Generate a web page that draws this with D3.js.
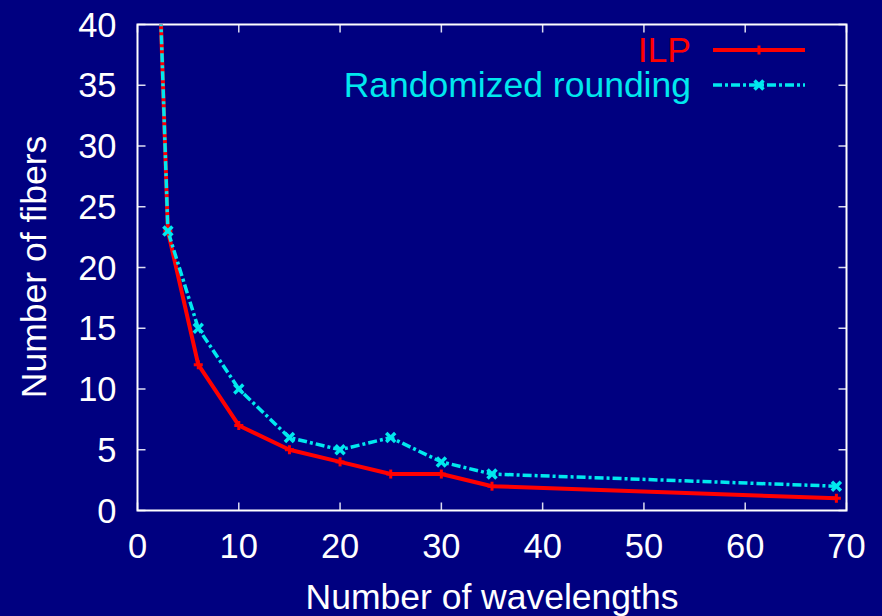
<!DOCTYPE html>
<html><head><meta charset="utf-8">
<script src="https://cdn.jsdelivr.net/npm/d3@7"></script>
<style>html,body{margin:0;padding:0;background:#000080;}svg{display:block;}</style>
</head><body>
<script>
const wavelengths = [2, 3, 6, 10, 15, 20, 25, 30, 35, 69];
const ilp = [48, 23, 12, 7, 5, 4, 3, 3, 2, 1];
const randomized = [48, 23, 15, 10, 6, 5, 6, 4, 3, 2];
const xTicks = [0, 10, 20, 30, 40, 50, 60, 70];
const yTicks = [0, 5, 10, 15, 20, 25, 30, 35, 40];
const seriesNames = ["ILP", "Randomized rounding"];

const W = 882, H = 616;
const m = {left: 137.5, right: W - 846.5, top: 24.5, bottom: H - 510.5};
const svg = d3.select("body").append("svg").attr("width", W).attr("height", H);
svg.append("rect").attr("width", W).attr("height", H).attr("fill", "#000080");

const x = d3.scaleLinear().domain([0, 70]).range([m.left, W - m.right]);
const y = d3.scaleLinear().domain([0, 40]).range([H - m.bottom, m.top]);

const font = "'Liberation Sans', Arial, sans-serif";
const fs = 34.5, fsT = 35.5;

// ticks (inward, mirrored)
const tk = 8;
const tg = svg.append("g").attr("stroke", "#dcdcf0").attr("stroke-width", 1.5);
xTicks.forEach(v => {
  tg.append("line").attr("x1", x(v)).attr("x2", x(v)).attr("y1", y(0)).attr("y2", y(0) - tk);
  tg.append("line").attr("x1", x(v)).attr("x2", x(v)).attr("y1", y(40)).attr("y2", y(40) + tk);
});
yTicks.forEach(v => {
  tg.append("line").attr("x1", x(0)).attr("x2", x(0) + tk).attr("y1", y(v)).attr("y2", y(v));
  tg.append("line").attr("x1", x(70)).attr("x2", x(70) - tk).attr("y1", y(v)).attr("y2", y(v));
});
svg.append("rect").attr("x", x(0)).attr("y", y(40)).attr("width", x(70) - x(0)).attr("height", y(0) - y(40))
  .attr("fill", "none").attr("stroke", "#ffffff").attr("stroke-width", 2);

// tick labels
svg.append("g").selectAll("text").data(xTicks).join("text")
  .attr("x", d => x(d)).attr("y", 558).attr("text-anchor", "middle")
  .attr("font-family", font).attr("font-size", fs).attr("fill", "#ffffff").text(d => d);
svg.append("g").selectAll("text").data(yTicks).join("text")
  .attr("x", 116.5).attr("y", d => y(d) + 12).attr("text-anchor", "end")
  .attr("font-family", font).attr("font-size", fs).attr("fill", "#ffffff").text(d => d);

// axis titles
svg.append("text").attr("x", 492).attr("y", 609).attr("text-anchor", "middle")
  .attr("font-family", font).attr("font-size", fsT).attr("fill", "#ffffff").text("Number of wavelengths");
svg.append("text").attr("transform", "translate(46,267) rotate(-90)").attr("text-anchor", "middle")
  .attr("font-family", font).attr("font-size", fsT).attr("fill", "#ffffff").text("Number of fibers");

// clip
svg.append("clipPath").attr("id", "clip").append("rect")
  .attr("x", x(0)).attr("y", y(40)).attr("width", x(70) - x(0)).attr("height", y(0) - y(40));
const plot = svg.append("g").attr("clip-path", "url(#clip)");

const line = d3.line().x(d => x(d[0])).y(d => y(d[1]));
const ilpData = wavelengths.map((w, i) => [w, ilp[i]]);
const rrData = wavelengths.map((w, i) => [w, randomized[i]]);

const red = "#ff0000", cyan = "#00e8ee";

plot.append("path").datum(ilpData).attr("d", line).attr("fill", "none")
  .attr("stroke", red).attr("stroke-width", 4).attr("stroke-linejoin", "round");
plot.append("path").datum(rrData).attr("d", line).attr("fill", "none")
  .attr("stroke", cyan).attr("stroke-width", 3.5).attr("stroke-dasharray", "9,3,3,3");

function plus(g, cx, cy, s, col, w) {
  g.append("line").attr("x1", cx - s).attr("x2", cx + s).attr("y1", cy).attr("y2", cy).attr("stroke", col).attr("stroke-width", w);
  g.append("line").attr("x1", cx).attr("x2", cx).attr("y1", cy - s).attr("y2", cy + s).attr("stroke", col).attr("stroke-width", w);
}
function cross(g, cx, cy, s, col, w) {
  g.append("line").attr("x1", cx - s).attr("x2", cx + s).attr("y1", cy - s).attr("y2", cy + s).attr("stroke", col).attr("stroke-width", w);
  g.append("line").attr("x1", cx - s).attr("x2", cx + s).attr("y1", cy + s).attr("y2", cy - s).attr("stroke", col).attr("stroke-width", w);
}
ilpData.forEach(d => plus(plot, x(d[0]), y(d[1]), 4.5, red, 3));
rrData.forEach(d => cross(plot, x(d[0]), y(d[1]), 4.5, cyan, 3.5));

// legend
const lg = svg.append("g");
lg.append("text").attr("x", 691).attr("y", 62).attr("text-anchor", "end")
  .attr("font-family", font).attr("font-size", fsT).attr("fill", red).text(seriesNames[0]);
lg.append("line").attr("x1", 713).attr("x2", 805).attr("y1", 50).attr("y2", 50)
  .attr("stroke", red).attr("stroke-width", 4);
plus(lg, 759, 50, 4.5, red, 3);
lg.append("text").attr("x", 691).attr("y", 97).attr("text-anchor", "end")
  .attr("font-family", font).attr("font-size", fsT).attr("fill", cyan).text(seriesNames[1]);
lg.append("line").attr("x1", 713).attr("x2", 805).attr("y1", 85).attr("y2", 85)
  .attr("stroke", cyan).attr("stroke-width", 3.5).attr("stroke-dasharray", "9,3,3,3");
cross(lg, 759, 85, 4.5, cyan, 3.5);
</script>
</body></html>
